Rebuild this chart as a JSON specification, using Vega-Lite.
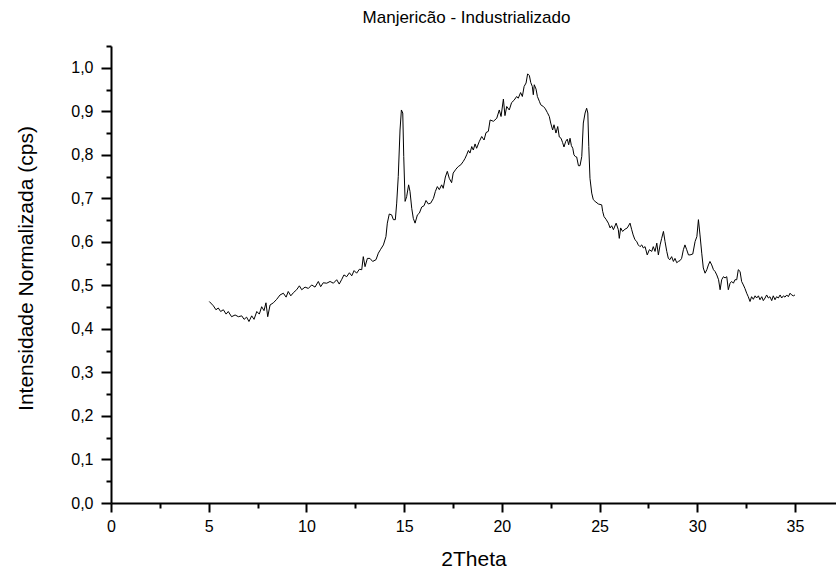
{
  "$schema": "https://vega.github.io/schema/vega-lite/v6.json",
  "width": 725,
  "height": 457,
  "autosize": {"type": "none"},
  "padding": {"left": 111, "top": 46, "right": 0, "bottom": 69},
  "background": "white",
  "title": {"text": "Manjericão - Industrializado", "fontSize": 17, "font": "Liberation Sans", "fontWeight": "normal", "baseline": "alphabetic", "offset": 23, "dy": 25, "anchor": "middle", "dx": -7, "color": "black"},
  "config": {"view": {"stroke": null}, "font": "Liberation Sans"},
  "data": {"values": [
    {"t": 5.03, "i": 0.463}, {"t": 5.24, "i": 0.453}, {"t": 5.37, "i": 0.444}, {"t": 5.49, "i": 0.448}, {"t": 5.61, "i": 0.440}, {"t": 5.75, "i": 0.444}, {"t": 5.89, "i": 0.434}, {"t": 6.0, "i": 0.440}, {"t": 6.17, "i": 0.428}, {"t": 6.35, "i": 0.432}, {"t": 6.52, "i": 0.428}, {"t": 6.69, "i": 0.430}, {"t": 6.81, "i": 0.422}, {"t": 6.94, "i": 0.427}, {"t": 7.06, "i": 0.417}, {"t": 7.2, "i": 0.430}, {"t": 7.32, "i": 0.422}, {"t": 7.46, "i": 0.440}, {"t": 7.59, "i": 0.434}, {"t": 7.71, "i": 0.451}, {"t": 7.83, "i": 0.442}, {"t": 7.93, "i": 0.460}, {"t": 8.02, "i": 0.428}, {"t": 8.14, "i": 0.455}, {"t": 8.31, "i": 0.460}, {"t": 8.48, "i": 0.468}, {"t": 8.65, "i": 0.478}, {"t": 8.82, "i": 0.482}, {"t": 8.96, "i": 0.473}, {"t": 9.07, "i": 0.486}, {"t": 9.2, "i": 0.476}, {"t": 9.33, "i": 0.483}, {"t": 9.5, "i": 0.490}, {"t": 9.64, "i": 0.499}, {"t": 9.76, "i": 0.490}, {"t": 9.93, "i": 0.496}, {"t": 10.1, "i": 0.493}, {"t": 10.27, "i": 0.501}, {"t": 10.44, "i": 0.496}, {"t": 10.61, "i": 0.509}, {"t": 10.73, "i": 0.497}, {"t": 10.86, "i": 0.506}, {"t": 11.04, "i": 0.505}, {"t": 11.21, "i": 0.509}, {"t": 11.38, "i": 0.505}, {"t": 11.55, "i": 0.513}, {"t": 11.68, "i": 0.503}, {"t": 11.81, "i": 0.514}, {"t": 11.92, "i": 0.524}, {"t": 12.06, "i": 0.520}, {"t": 12.2, "i": 0.529}, {"t": 12.32, "i": 0.522}, {"t": 12.44, "i": 0.534}, {"t": 12.57, "i": 0.528}, {"t": 12.71, "i": 0.537}, {"t": 12.83, "i": 0.536},
    {"t": 12.91, "i": 0.566}, {"t": 13.0, "i": 0.543}, {"t": 13.12, "i": 0.562}, {"t": 13.25, "i": 0.562}, {"t": 13.39, "i": 0.555}, {"t": 13.56, "i": 0.559}, {"t": 13.68, "i": 0.574}, {"t": 13.8, "i": 0.583}, {"t": 13.94, "i": 0.593}, {"t": 14.07, "i": 0.612}, {"t": 14.14, "i": 0.643}, {"t": 14.24, "i": 0.664}, {"t": 14.36, "i": 0.662}, {"t": 14.45, "i": 0.651}, {"t": 14.55, "i": 0.651}, {"t": 14.62, "i": 0.689}, {"t": 14.7, "i": 0.750}, {"t": 14.79, "i": 0.857}, {"t": 14.86, "i": 0.903}, {"t": 14.93, "i": 0.896}, {"t": 14.98, "i": 0.796}, {"t": 15.05, "i": 0.693}, {"t": 15.13, "i": 0.704}, {"t": 15.23, "i": 0.731}, {"t": 15.3, "i": 0.716}, {"t": 15.39, "i": 0.677}, {"t": 15.47, "i": 0.654}, {"t": 15.56, "i": 0.643}, {"t": 15.68, "i": 0.662}, {"t": 15.78, "i": 0.666}, {"t": 15.9, "i": 0.680}, {"t": 16.02, "i": 0.683}, {"t": 16.12, "i": 0.695}, {"t": 16.24, "i": 0.687}, {"t": 16.36, "i": 0.689}, {"t": 16.5, "i": 0.700}, {"t": 16.6, "i": 0.716}, {"t": 16.7, "i": 0.727}, {"t": 16.8, "i": 0.720}, {"t": 16.92, "i": 0.731}, {"t": 17.0, "i": 0.723}, {"t": 17.11, "i": 0.749}, {"t": 17.21, "i": 0.762}, {"t": 17.31, "i": 0.746}, {"t": 17.43, "i": 0.736}, {"t": 17.51, "i": 0.758}, {"t": 17.65, "i": 0.767}, {"t": 17.77, "i": 0.773}, {"t": 17.9, "i": 0.777}, {"t": 18.03, "i": 0.785}, {"t": 18.12, "i": 0.792}, {"t": 18.2, "i": 0.800}, {"t": 18.29, "i": 0.810}, {"t": 18.37, "i": 0.804}, {"t": 18.46, "i": 0.819}, {"t": 18.54, "i": 0.811}, {"t": 18.63, "i": 0.825}, {"t": 18.71, "i": 0.815}, {"t": 18.84, "i": 0.830}, {"t": 18.97, "i": 0.842}, {"t": 19.09, "i": 0.834}, {"t": 19.19, "i": 0.851}, {"t": 19.31, "i": 0.854},
    {"t": 19.4, "i": 0.880}, {"t": 19.57, "i": 0.877}, {"t": 19.74, "i": 0.884}, {"t": 19.87, "i": 0.903}, {"t": 19.96, "i": 0.888}, {"t": 20.08, "i": 0.928}, {"t": 20.16, "i": 0.890}, {"t": 20.25, "i": 0.911}, {"t": 20.38, "i": 0.903}, {"t": 20.5, "i": 0.920}, {"t": 20.62, "i": 0.925}, {"t": 20.76, "i": 0.934}, {"t": 20.84, "i": 0.930}, {"t": 20.96, "i": 0.943}, {"t": 21.05, "i": 0.934}, {"t": 21.14, "i": 0.957}, {"t": 21.24, "i": 0.965}, {"t": 21.32, "i": 0.986}, {"t": 21.41, "i": 0.982}, {"t": 21.48, "i": 0.966}, {"t": 21.56, "i": 0.957}, {"t": 21.61, "i": 0.938}, {"t": 21.66, "i": 0.961}, {"t": 21.75, "i": 0.951}, {"t": 21.82, "i": 0.934}, {"t": 21.92, "i": 0.923}, {"t": 21.99, "i": 0.915}, {"t": 22.12, "i": 0.911}, {"t": 22.21, "i": 0.907}, {"t": 22.33, "i": 0.897}, {"t": 22.43, "i": 0.888}, {"t": 22.5, "i": 0.873}, {"t": 22.6, "i": 0.857}, {"t": 22.67, "i": 0.869}, {"t": 22.77, "i": 0.850}, {"t": 22.86, "i": 0.865}, {"t": 22.94, "i": 0.841}, {"t": 23.03, "i": 0.838}, {"t": 23.11, "i": 0.828}, {"t": 23.18, "i": 0.818}, {"t": 23.27, "i": 0.831}, {"t": 23.35, "i": 0.836}, {"t": 23.42, "i": 0.823}, {"t": 23.49, "i": 0.838}, {"t": 23.56, "i": 0.821}, {"t": 23.63, "i": 0.815}, {"t": 23.69, "i": 0.800}, {"t": 23.76, "i": 0.796}, {"t": 23.83, "i": 0.795}, {"t": 23.92, "i": 0.775}, {"t": 24.0, "i": 0.775}, {"t": 24.09, "i": 0.796}, {"t": 24.17, "i": 0.873}, {"t": 24.26, "i": 0.896}, {"t": 24.34, "i": 0.907}, {"t": 24.4, "i": 0.896}, {"t": 24.45, "i": 0.819}, {"t": 24.51, "i": 0.746}, {"t": 24.6, "i": 0.712}, {"t": 24.68, "i": 0.697},
    {"t": 24.77, "i": 0.693}, {"t": 24.94, "i": 0.687}, {"t": 25.11, "i": 0.685}, {"t": 25.16, "i": 0.670}, {"t": 25.23, "i": 0.658}, {"t": 25.33, "i": 0.652}, {"t": 25.45, "i": 0.643}, {"t": 25.54, "i": 0.632}, {"t": 25.62, "i": 0.637}, {"t": 25.71, "i": 0.628}, {"t": 25.85, "i": 0.643}, {"t": 25.96, "i": 0.628}, {"t": 26.01, "i": 0.608}, {"t": 26.08, "i": 0.632}, {"t": 26.18, "i": 0.624}, {"t": 26.3, "i": 0.629}, {"t": 26.42, "i": 0.632}, {"t": 26.56, "i": 0.643}, {"t": 26.64, "i": 0.629}, {"t": 26.72, "i": 0.616}, {"t": 26.81, "i": 0.605}, {"t": 26.9, "i": 0.601}, {"t": 26.98, "i": 0.593}, {"t": 27.07, "i": 0.589}, {"t": 27.16, "i": 0.593}, {"t": 27.24, "i": 0.586}, {"t": 27.33, "i": 0.589}, {"t": 27.44, "i": 0.570}, {"t": 27.55, "i": 0.582}, {"t": 27.67, "i": 0.578}, {"t": 27.75, "i": 0.589}, {"t": 27.84, "i": 0.578}, {"t": 27.93, "i": 0.597}, {"t": 28.01, "i": 0.570}, {"t": 28.1, "i": 0.593}, {"t": 28.18, "i": 0.608}, {"t": 28.27, "i": 0.624}, {"t": 28.35, "i": 0.601}, {"t": 28.44, "i": 0.578}, {"t": 28.52, "i": 0.562}, {"t": 28.6, "i": 0.559}, {"t": 28.69, "i": 0.566}, {"t": 28.78, "i": 0.555}, {"t": 28.86, "i": 0.562}, {"t": 28.95, "i": 0.552}, {"t": 29.03, "i": 0.555}, {"t": 29.12, "i": 0.557}, {"t": 29.2, "i": 0.562}, {"t": 29.29, "i": 0.582}, {"t": 29.37, "i": 0.593}, {"t": 29.46, "i": 0.582}, {"t": 29.55, "i": 0.570}, {"t": 29.63, "i": 0.570}, {"t": 29.77, "i": 0.572}, {"t": 29.89, "i": 0.601}, {"t": 29.98, "i": 0.612}, {"t": 30.06, "i": 0.651}, {"t": 30.14, "i": 0.616}, {"t": 30.23, "i": 0.574}, {"t": 30.31, "i": 0.540}, {"t": 30.4, "i": 0.528}, {"t": 30.49, "i": 0.536}, {"t": 30.57, "i": 0.547}, {"t": 30.65, "i": 0.555}, {"t": 30.74, "i": 0.547}, {"t": 30.83, "i": 0.536}, {"t": 30.91, "i": 0.532}, {"t": 31.0, "i": 0.524}, {"t": 31.09, "i": 0.513}, {"t": 31.17, "i": 0.490}, {"t": 31.25, "i": 0.513}, {"t": 31.34, "i": 0.520}, {"t": 31.42, "i": 0.517}, {"t": 31.51, "i": 0.520}, {"t": 31.59, "i": 0.490}, {"t": 31.68, "i": 0.505}, {"t": 31.76, "i": 0.509}, {"t": 31.85, "i": 0.505}, {"t": 31.93, "i": 0.513}, {"t": 32.02, "i": 0.513}, {"t": 32.1, "i": 0.536}, {"t": 32.19, "i": 0.532}, {"t": 32.27, "i": 0.509}, {"t": 32.36, "i": 0.501}, {"t": 32.44, "i": 0.493}, {"t": 32.53, "i": 0.482}, {"t": 32.61, "i": 0.474}, {"t": 32.7, "i": 0.463}, {"t": 32.78, "i": 0.474}, {"t": 32.87, "i": 0.468}, {"t": 32.96, "i": 0.476}, {"t": 33.04, "i": 0.471}, {"t": 33.13, "i": 0.476}, {"t": 33.21, "i": 0.467}, {"t": 33.3, "i": 0.474}, {"t": 33.38, "i": 0.465}, {"t": 33.47, "i": 0.471}, {"t": 33.55, "i": 0.478}, {"t": 33.64, "i": 0.471}, {"t": 33.72, "i": 0.474}, {"t": 33.81, "i": 0.465}, {"t": 33.89, "i": 0.476}, {"t": 33.98, "i": 0.467}, {"t": 34.06, "i": 0.474}, {"t": 34.15, "i": 0.471}, {"t": 34.24, "i": 0.478}, {"t": 34.32, "i": 0.471}, {"t": 34.41, "i": 0.476}, {"t": 34.49, "i": 0.473}, {"t": 34.58, "i": 0.478}, {"t": 34.66, "i": 0.474}, {"t": 34.75, "i": 0.482}, {"t": 34.83, "i": 0.478}, {"t": 34.92, "i": 0.476}, {"t": 35.0, "i": 0.478}
  ]},
  "mark": {"type": "line", "color": "black", "strokeWidth": 1},
  "encoding": {
    "x": {
      "field": "t", "type": "quantitative",
      "scale": {"domain": [0, 37.1], "nice": false, "zero": false},
      "axis": {
        "values": [0, 2.5, 5, 7.5, 10, 12.5, 15, 17.5, 20, 22.5, 25, 27.5, 30, 32.5, 35],
        "title": "2Theta", "titleFontSize": 21, "titleFontWeight": "normal", "titleColor": "black",
        "titleBaseline": "alphabetic", "titleY": 62,
        "format": "d",
        "labelExpr": "datum.value % 5 === 0 ? datum.label : ''",
        "labelFontSize": 16, "labelColor": "black", "labelPadding": 6, "labelFlush": false, "labelOverlap": false,
        "tickSize": {"condition": {"test": "datum.value % 5 === 0", "value": 9}, "value": 5},
        "tickWidth": 2, "tickColor": "black", "domainWidth": 2, "domainColor": "black", "grid": false
      }
    },
    "y": {
      "field": "i", "type": "quantitative",
      "scale": {"domain": [0, 1.05], "nice": false, "zero": false},
      "axis": {
        "values": [0, 0.05, 0.1, 0.15, 0.2, 0.25, 0.3, 0.35, 0.4, 0.45, 0.5, 0.55, 0.6, 0.65, 0.7, 0.75, 0.8, 0.85, 0.9, 0.95, 1.0, 1.05],
        "title": "Intensidade Normalizada (cps)", "titleFontSize": 21, "titleFontWeight": "normal", "titleColor": "black",
        "titleBaseline": "alphabetic", "titleAngle": 270, "titleAlign": "center", "titleX": -79, "titleY": 222,
        "labelExpr": "round(datum.value * 100) % 10 === 0 ? replace(format(datum.value, '.1f'), '.', ',') : ''",
        "labelFontSize": 16, "labelColor": "black", "labelPadding": 8, "labelFlush": false, "labelOverlap": false,
        "tickSize": {"condition": {"test": "round(datum.value * 100) % 10 === 0", "value": 10}, "value": 5},
        "tickWidth": 2, "tickColor": "black", "domainWidth": 2, "domainColor": "black", "grid": false
      }
    }
  }
}
